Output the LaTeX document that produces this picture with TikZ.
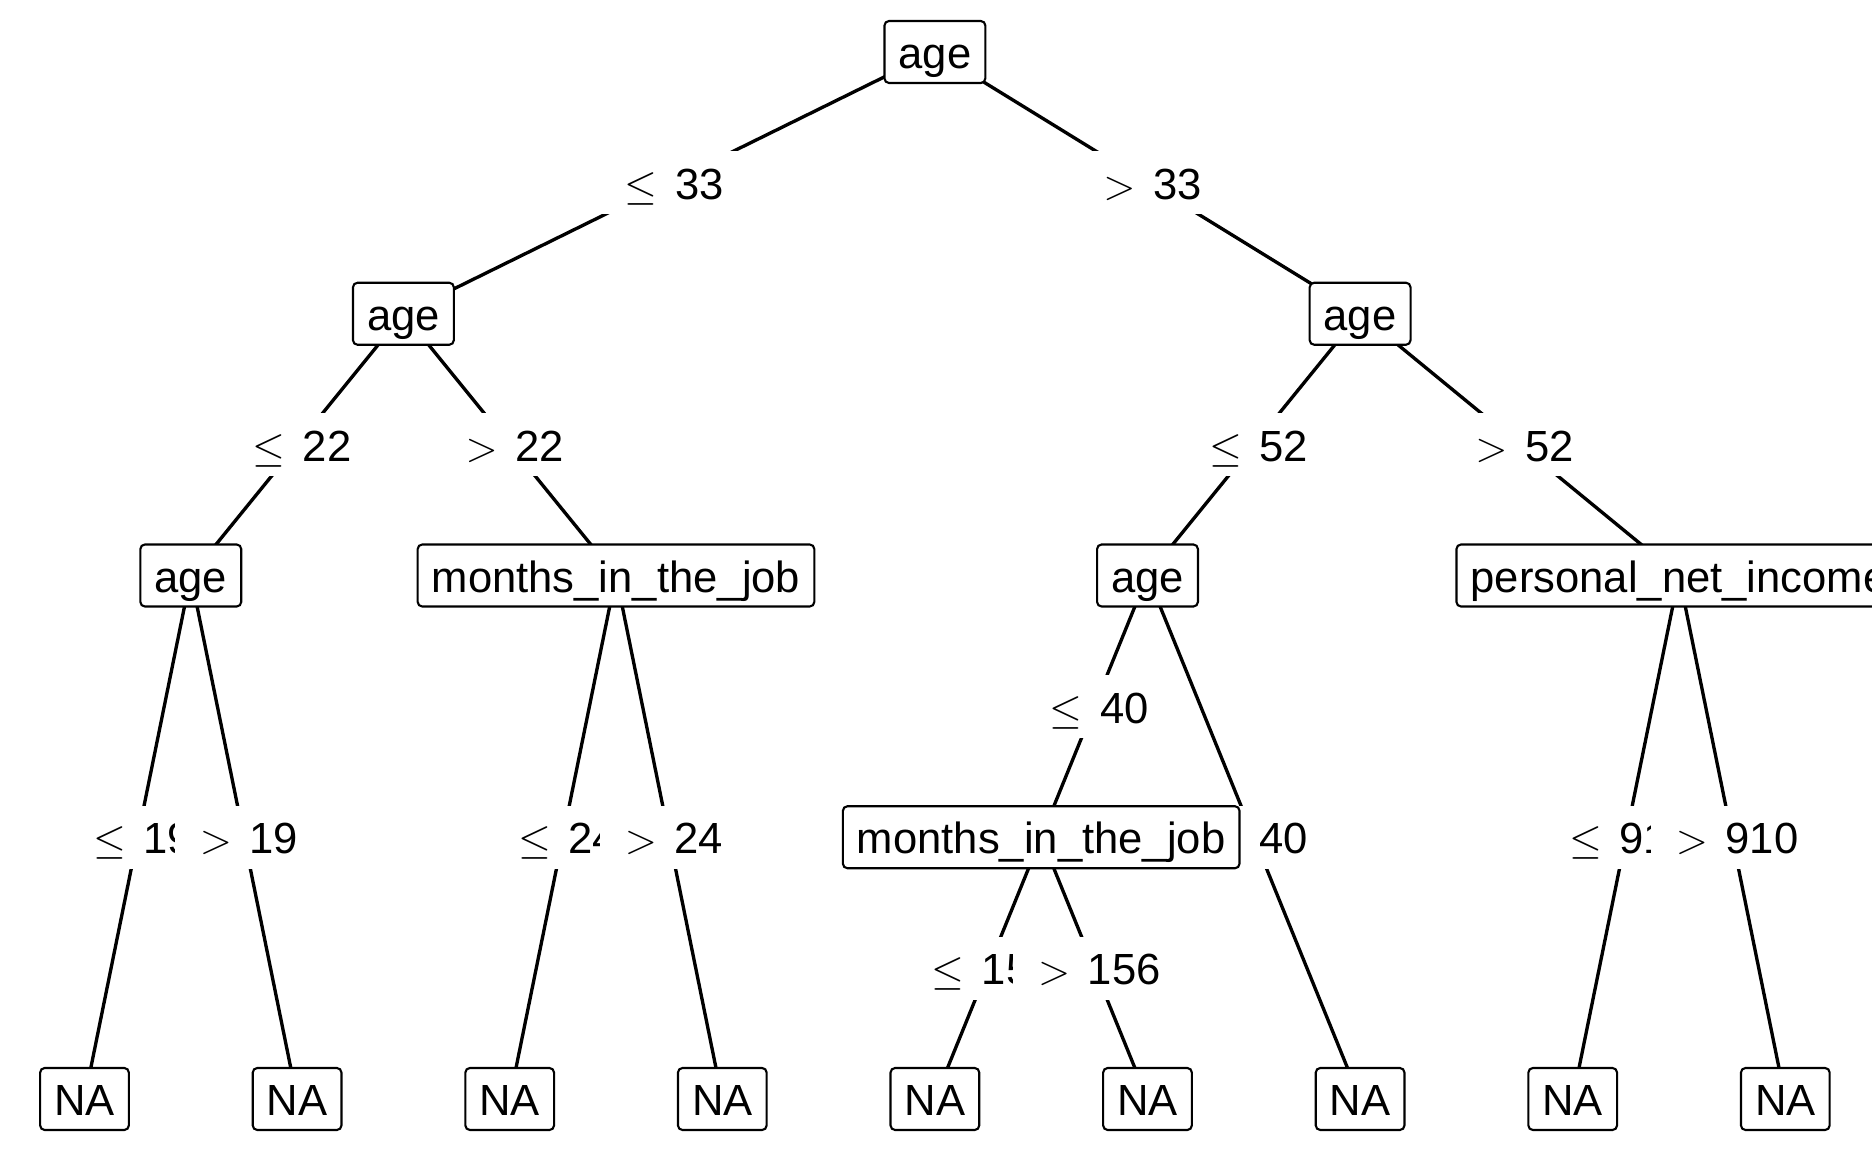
\documentclass[tikz,border=0pt]{standalone}
\usepackage{fontspec}
\setmainfont{Liberation Sans}
\usetikzlibrary{calc}
\pgfdeclarelayer{edges}
\pgfdeclarelayer{labels}
\pgfsetlayers{edges,labels,main}
% split labels: relation sign, gap, threshold
\newcommand{\lelab}[1]{\hspace*{2.8pt}$\leq$\hspace{5pt}#1}
\newcommand{\gtlab}[1]{\hspace*{2.8pt}$>$\hspace{5pt}#1}
\begin{document}
\begin{tikzpicture}[x=0.01cm,y=-0.01cm,
  every node/.style={font=\fontsize{12.4pt}{14pt}\selectfont, text height=9.5pt, text depth=0pt},
  tnode/.style={draw, line width=0.6pt, rounded corners=1.3pt, fill=white,
                inner xsep=4pt, inner ysep=0pt, minimum height=0.62cm},
  elabel/.style={fill=white, inner xsep=4.3pt, inner ysep=0pt, minimum height=0.63cm},
  link/.style={line width=0.95pt}]
\useasboundingbox (0,0) rectangle (1872,1152);
\clip (0,0) rectangle (1872,1152);

% tree nodes
\node[tnode] (n1)  at (934.9,52)     {age};
\node[tnode] (n2)  at (403.4,313.75) {age};
\node[tnode] (n3)  at (190.8,575.5)  {age};
\node[tnode] (n4)  at (84.5,1099)    {NA};
\node[tnode] (n5)  at (297.1,1099)   {NA};
\node[tnode] (n6)  at (616.0,575.5)  {months\_in\_the\_job};
\node[tnode] (n7)  at (509.7,1099)   {NA};
\node[tnode] (n8)  at (722.3,1099)   {NA};
\node[tnode] (n9)  at (1360.1,313.75){age};
\node[tnode] (n10) at (1147.5,575.5) {age};
\node[tnode] (n11) at (1041.2,837.25){months\_in\_the\_job};
\node[tnode] (n12) at (934.9,1099)   {NA};
\node[tnode] (n13) at (1147.5,1099)  {NA};
\node[tnode] (n14) at (1360.1,1099)  {NA};
\node[tnode] (n15) at (1679.0,575.5) {personal\_net\_income};
\node[tnode] (n16) at (1572.7,1099)  {NA};
\node[tnode] (n17) at (1785.3,1099)  {NA};

% connectors, centre to centre, behind everything
\begin{pgfonlayer}{edges}
\foreach \a/\b in {n1/n2,n1/n9,n2/n3,n2/n6,n3/n4,n3/n5,n6/n7,n6/n8,
                   n9/n10,n9/n15,n10/n11,n10/n14,n11/n12,n11/n13,n15/n16,n15/n17}
  \draw[link] (\a.center) -- (\b.center);
\end{pgfonlayer}

% split labels at the middle of each connector
\begin{pgfonlayer}{labels}
\node[elabel] (s1)  at ($(n1)!0.5!(n2)$)   {\lelab{33}};
\node[elabel] (s2)  at ($(n1)!0.5!(n9)$)   {\gtlab{33}};
\node[elabel] (s3)  at ($(n2)!0.5!(n3)$)   {\lelab{22}};
\node[elabel] (s4)  at ($(n2)!0.5!(n6)$)   {\gtlab{22}};
\node[elabel] (s5)  at ($(n3)!0.5!(n4)$)   {\lelab{19}};
\node[elabel] (s6)  at ($(n3)!0.5!(n5)$)   {\gtlab{19}};
\node[elabel] (s7)  at ($(n6)!0.5!(n7)$)   {\lelab{24}};
\node[elabel] (s8)  at ($(n6)!0.5!(n8)$)   {\gtlab{24}};
\node[elabel] (s9)  at ($(n9)!0.5!(n10)$)  {\lelab{52}};
\node[elabel] (s10) at ($(n9)!0.5!(n15)$)  {\gtlab{52}};
\node[elabel] (s11) at ($(n10)!0.5!(n11)$) {\lelab{40}};
\node[elabel] (s12) at ($(n10)!0.5!(n14)$) {\gtlab{40}};
\node[elabel] (s13) at ($(n11)!0.5!(n12)$) {\lelab{156}};
\node[elabel] (s14) at ($(n11)!0.5!(n13)$) {\gtlab{156}};
\node[elabel] (s15) at ($(n15)!0.5!(n16)$) {\lelab{910}};
\node[elabel] (s16) at ($(n15)!0.5!(n17)$) {\gtlab{910}};
\end{pgfonlayer}
\end{tikzpicture}
\end{document}
